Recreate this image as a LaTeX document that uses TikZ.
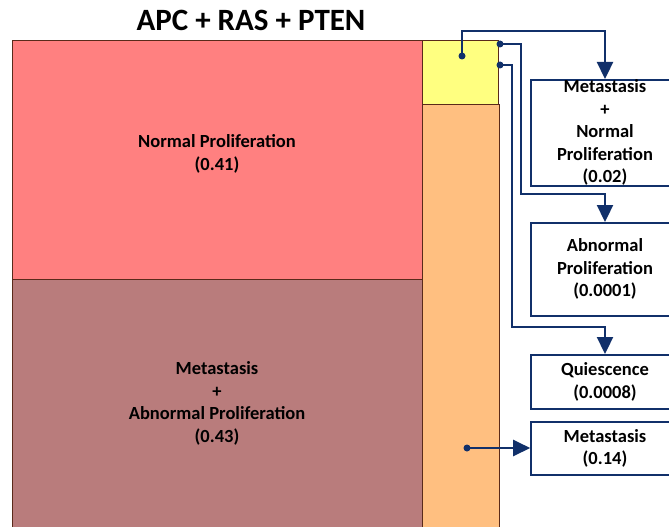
\documentclass[tikz,border=0pt]{standalone}
\usepackage{fontspec}
\setmainfont{Carlito}
\usetikzlibrary{arrows.meta}
\definecolor{navy}{HTML}{11306A}
\definecolor{normalred}{HTML}{FF8080}
\definecolor{metamauve}{HTML}{B97C7C}
\definecolor{mixyellow}{HTML}{FFFF80}
\definecolor{quietorange}{HTML}{FFBF80}
\definecolor{edge}{HTML}{5A2A1A}
\tikzset{
  x=1pt, y=-1pt,
  region/.style={draw=edge, line width=0.9pt, anchor=north west, inner sep=0pt},
  label/.style={font=\bfseries\fontsize{18.5}{22.5}\selectfont, align=center, text=black},
  outcome/.style={draw=navy, line width=1.6pt, fill=white, minimum width=148pt,
    anchor=north, inner sep=0pt, font=\bfseries\fontsize{18.5}{22.5}\selectfont, align=center},
  link/.style={draw=navy, line width=2.3pt, -{Triangle[length=17pt,width=16pt]}},
  dot/.style={circle, fill=navy, inner sep=0pt, minimum size=7pt},
}
\begin{document}
\begin{tikzpicture}
\useasboundingbox (0,0) rectangle (669,527);
% stacked probability regions
\node[region, fill=normalred, minimum width=410pt, minimum height=239pt] (normal) at (12,40) {};
\node[region, fill=metamauve, minimum width=410pt, minimum height=260pt] (meta) at (12,279) {};
\node[region, fill=quietorange, minimum width=77pt, minimum height=430pt] (orange) at (422,104) {};
\node[region, fill=mixyellow, minimum width=76pt, minimum height=64pt] (yellow) at (422,40) {};
\node[label] (normaltxt) at (217,154) {Normal Proliferation\\(0.41)};
\node[label] (metatxt) at (217,403.5) {Metastasis\\+\\Abnormal Proliferation\\(0.43)};
% title
\node[font=\bfseries\fontsize{31}{35}\selectfont] (title) at (251,20) {APC + RAS + PTEN};
% outcome boxes
\node[outcome, minimum height=106pt] (o1) at (605,79) {Metastasis\\+\\Normal\\Proliferation\\(0.02)};
\node[outcome, minimum height=93pt] (o2) at (605,222) {Abnormal\\Proliferation\\(0.0001)};
\node[outcome, minimum height=54pt] (o3) at (605,354) {Quiescence\\(0.0008)};
\node[outcome, minimum height=53pt] (o4) at (605,421) {Metastasis\\(0.14)};
% branch points
\node[dot] (d1) at (462,56) {};
\node[dot] (d2) at (500,44) {};
\node[dot] (d3) at (500,65) {};
\node[dot] (d4) at (467,448) {};
% connectors
\draw[link] (d1.center) |- (605,31) -- (o1.north);
\draw[link] (d2.center) -| (521,194) -| (o2.north);
\draw[link] (d3.center) -| (512,327) -| (o3.north);
\draw[link] (d4.center) -- (d4.center -| o4.west);
\end{tikzpicture}
\end{document}
